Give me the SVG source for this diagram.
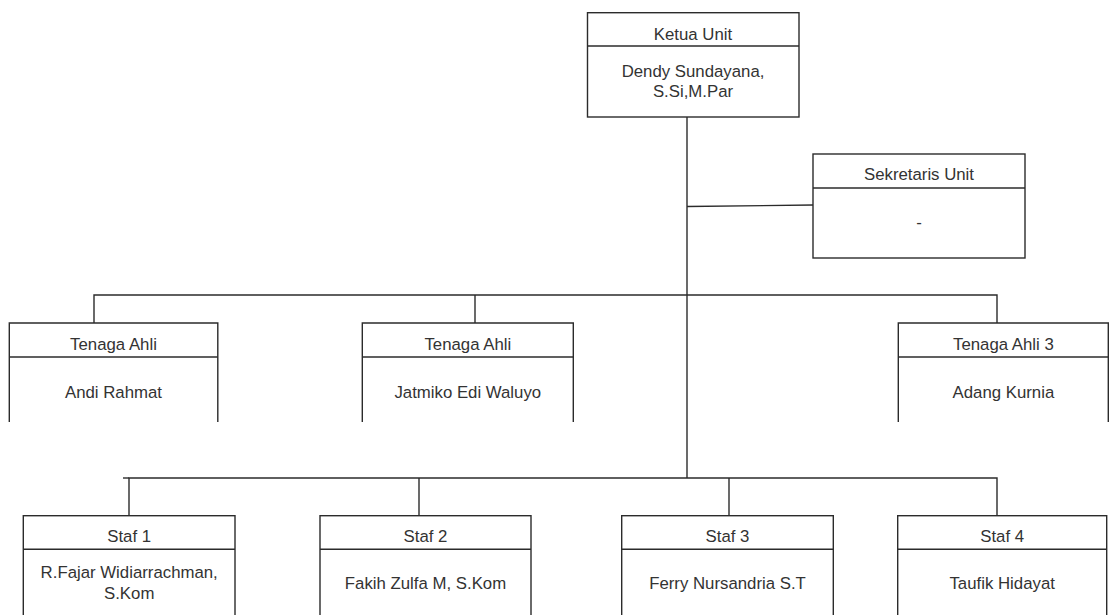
<svg xmlns="http://www.w3.org/2000/svg" width="1109" height="615" viewBox="0 0 1109 615">
<style>
.box{fill:#fff;stroke:#2b2b2b;stroke-width:1.4}
.div{stroke:#2b2b2b;stroke-width:1.4}
.t{font-family:"Liberation Sans",Arial,sans-serif;font-size:16.8px;fill:#333;text-anchor:middle}
.c{fill:none;stroke:#2b2b2b;stroke-width:1.4}
</style>
<rect width="1109" height="615" fill="#fff"/>
<g id="connectors">
<path class="c" d="M687 117V478"/>
<path class="c" d="M687 206.5L813 205"/>
<path class="c" d="M94 323V295H997V323"/>
<path class="c" d="M475 295V323"/>
<path class="c" d="M129 516V478H997V516"/>
<path class="c" d="M123 478H129"/>
<path class="c" d="M419 478V516"/>
<path class="c" d="M729 478V516"/>
</g>
<g id="ketua">
<rect class="box" x="587.5" y="12.7" width="211.5" height="104.3"/>
<line class="div" x1="587.5" y1="46" x2="799" y2="46"/>
<text class="t" x="693" y="39.5">Ketua Unit</text>
<text class="t" x="693" y="77">Dendy Sundayana,</text>
<text class="t" x="693" y="96.5">S.Si,M.Par</text>
</g>
<g id="sekretaris">
<rect class="box" x="813" y="154" width="212" height="104"/>
<line class="div" x1="813" y1="188" x2="1025" y2="188"/>
<text class="t" x="919" y="180">Sekretaris Unit</text>
<text class="t" x="919" y="228">-</text>
</g>
<g id="tenaga1">
<path class="box" d="M9.3 422V323H217.8V422"/>
<line class="div" x1="9.3" y1="357" x2="217.8" y2="357"/>
<text class="t" x="113.5" y="349.5">Tenaga Ahli</text>
<text class="t" x="113.5" y="398">Andi Rahmat</text>
</g>
<g id="tenaga2">
<path class="box" d="M362.3 422V323H573.3V422"/>
<line class="div" x1="362.3" y1="357" x2="573.3" y2="357"/>
<text class="t" x="467.8" y="349.5">Tenaga Ahli</text>
<text class="t" x="467.8" y="398">Jatmiko Edi Waluyo</text>
</g>
<g id="tenaga3">
<path class="box" d="M898.3 422V323H1108.3V422"/>
<line class="div" x1="898.3" y1="357" x2="1108.3" y2="357"/>
<text class="t" x="1003.4" y="349.5">Tenaga Ahli 3</text>
<text class="t" x="1003.4" y="398">Adang Kurnia</text>
</g>
<g id="staf1">
<rect class="box" x="23.3" y="515.7" width="211.7" height="104"/>
<line class="div" x1="23.3" y1="549.3" x2="235" y2="549.3"/>
<text class="t" x="129.2" y="541.5">Staf 1</text>
<text class="t" x="129.2" y="578">R.Fajar Widiarrachman,</text>
<text class="t" x="129.2" y="599">S.Kom</text>
</g>
<g id="staf2">
<rect class="box" x="320" y="515.7" width="211" height="104"/>
<line class="div" x1="320" y1="549.3" x2="531" y2="549.3"/>
<text class="t" x="425.5" y="541.5">Staf 2</text>
<text class="t" x="425.5" y="589">Fakih Zulfa M, S.Kom</text>
</g>
<g id="staf3">
<rect class="box" x="621.7" y="515.7" width="211.6" height="104"/>
<line class="div" x1="621.7" y1="549.3" x2="833.3" y2="549.3"/>
<text class="t" x="727.5" y="541.5">Staf 3</text>
<text class="t" x="727.5" y="589">Ferry Nursandria S.T</text>
</g>
<g id="staf4">
<rect class="box" x="897.7" y="515.7" width="209" height="104"/>
<line class="div" x1="897.7" y1="549.3" x2="1106.7" y2="549.3"/>
<text class="t" x="1002.2" y="541.5">Staf 4</text>
<text class="t" x="1002.2" y="589">Taufik Hidayat</text>
</g>
</svg>
